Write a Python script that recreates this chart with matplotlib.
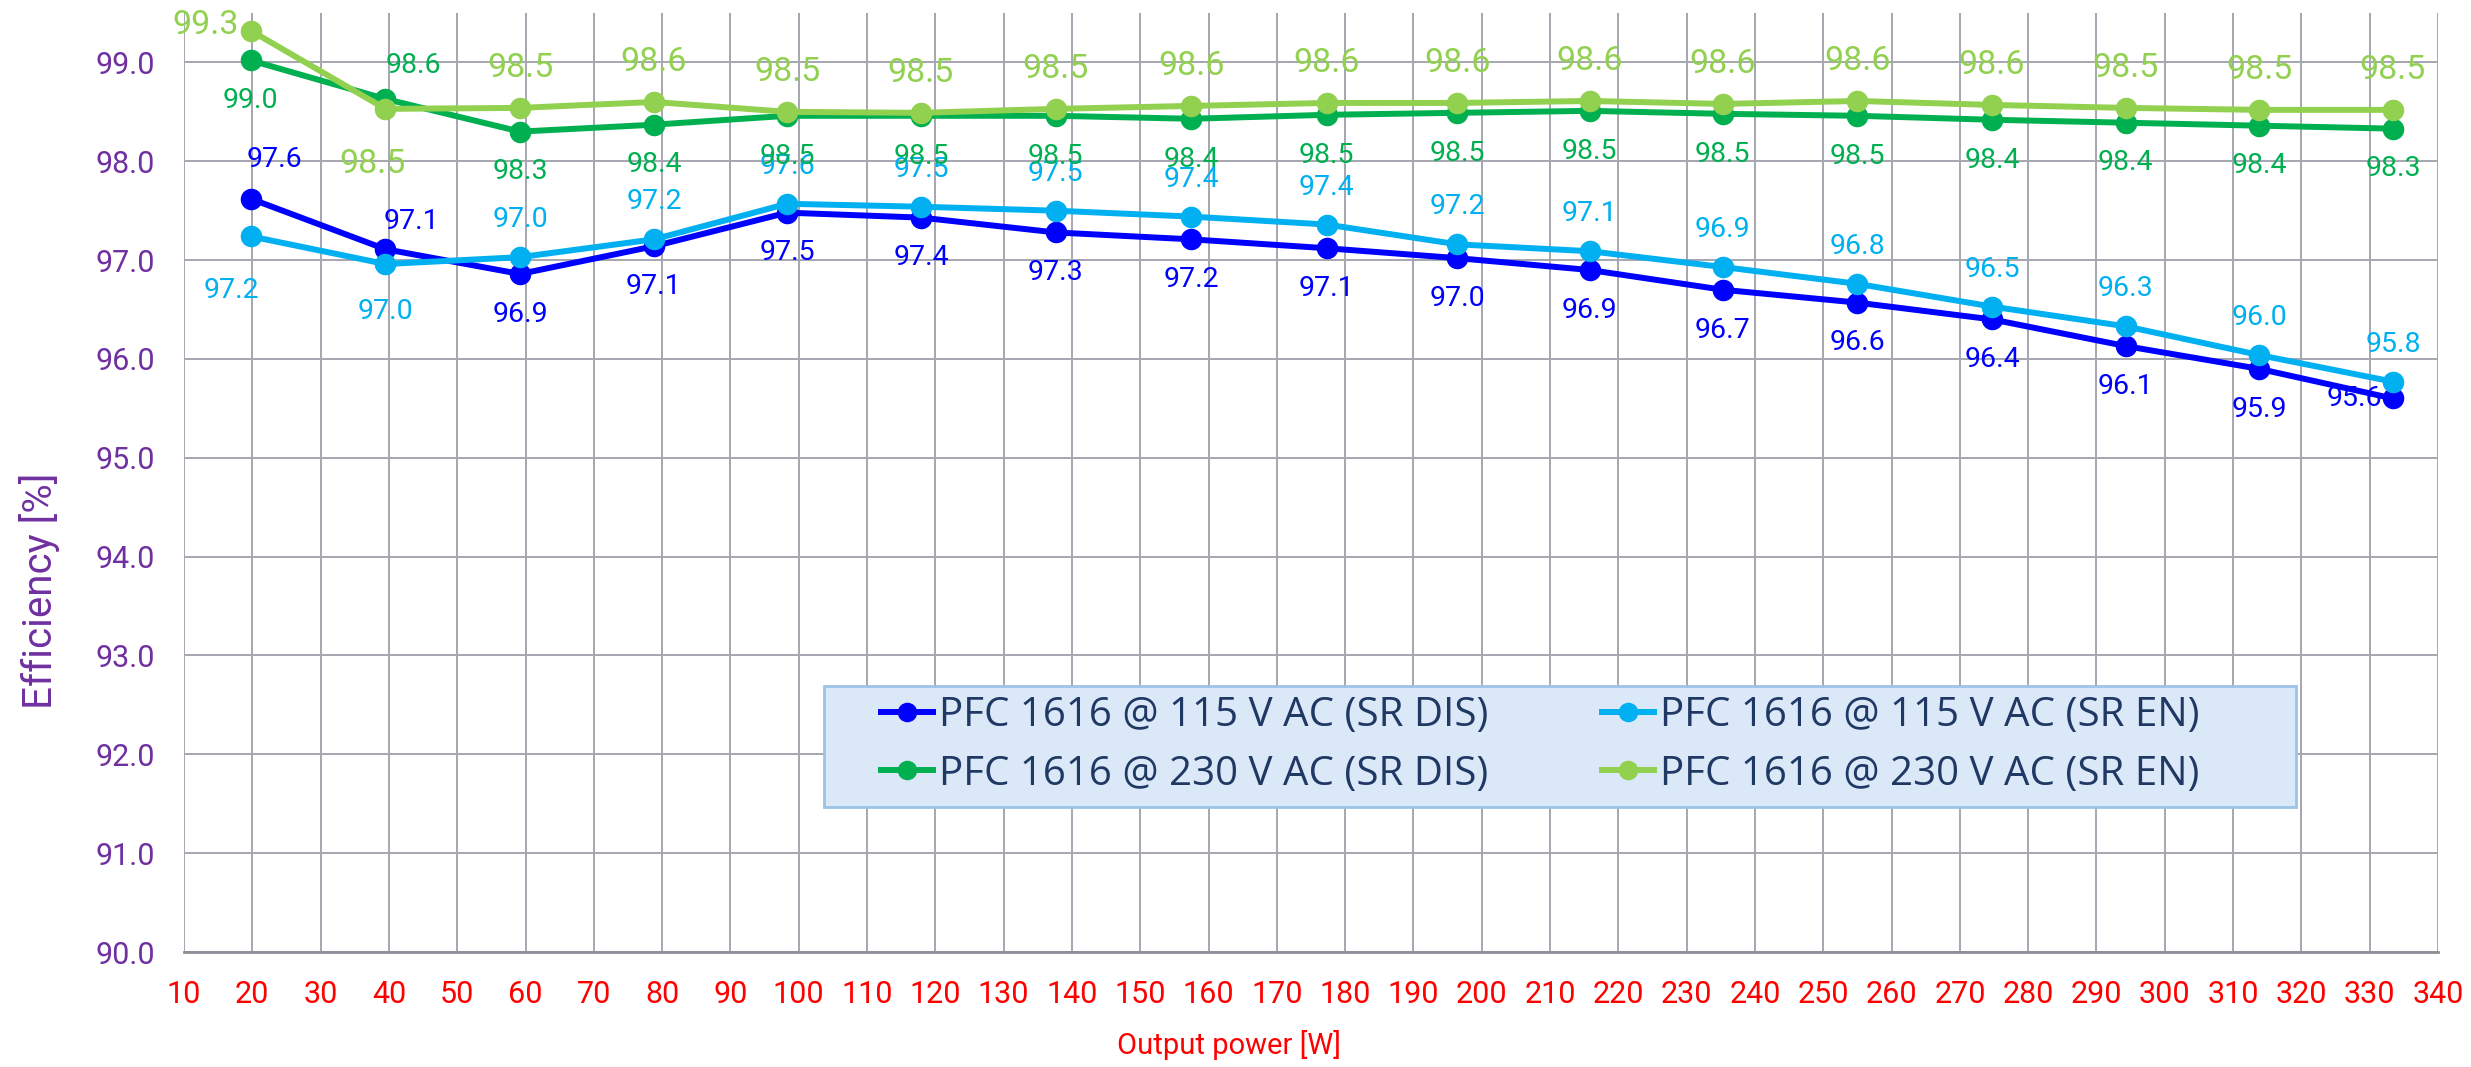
import matplotlib
matplotlib.use('Agg')
import matplotlib.pyplot as plt
from matplotlib.patches import Rectangle

plt.rcParams['font.family'] = ['Roboto', 'DejaVu Sans']

# Output power points [W]
power = [19.8, 39.5, 59.2, 78.8, 98.3, 117.9, 137.6, 157.5, 177.3, 196.4, 215.8, 235.3, 255.0, 274.7, 294.3, 313.8, 333.4]

# Efficiency [%]
eff_115_dis = [97.62, 97.11, 96.86, 97.14, 97.48, 97.43, 97.28, 97.21, 97.12, 97.02, 96.90, 96.70, 96.57, 96.40, 96.13, 95.90, 95.60]
eff_115_en = [97.24, 96.96, 97.03, 97.21, 97.57, 97.54, 97.50, 97.44, 97.36, 97.16, 97.09, 96.93, 96.76, 96.53, 96.33, 96.04, 95.77]
eff_230_dis = [99.02, 98.63, 98.30, 98.37, 98.46, 98.46, 98.46, 98.43, 98.47, 98.49, 98.51, 98.48, 98.46, 98.42, 98.39, 98.36, 98.33]
eff_230_en = [99.32, 98.53, 98.54, 98.60, 98.50, 98.49, 98.53, 98.56, 98.59, 98.59, 98.61, 98.58, 98.61, 98.57, 98.54, 98.52, 98.52]

names = ['PFC 1616 @ 115 V AC (SR DIS)', 'PFC 1616 @ 115 V AC (SR EN)',
         'PFC 1616 @ 230 V AC (SR DIS)', 'PFC 1616 @ 230 V AC (SR EN)']
colors = ['#0000FF', '#00B0F0', '#00B050', '#92D050']
series = [eff_115_dis, eff_115_en, eff_230_dis, eff_230_en]
label_size = [20.5, 20.5, 20.5, 24.5]

# label offsets in points: default per series, plus a few overrides
default_off = [(0, -29), (0, 27), (0, -29), (0, 29)]
special_off = {
    0: {0: (17, 28), 1: (19, 20), 16: (-28, 0)},
    1: {0: (-14, -39), 1: (0, -34)},
    2: {1: (20, 24)},
    3: {0: (-33, 4), 1: (-9, -40)},
}

W, H = 2471, 1067
L, R, T, B = 184, 2438, 13, 952
fig = plt.figure(figsize=(W / 100, H / 100), dpi=100)
ax = fig.add_axes([L / W, 1 - B / H, (R - L) / W, (B - T) / H])

def ax_x(px):
    return (px - L) / (R - L)

def ax_y(py):
    return (B - py) / (B - T)

lines = []
for i in range(4):
    ln, = ax.plot(power, series[i], color=colors[i], lw=4.3, marker='o', ms=14.5,
                  label=names[i], zorder=3 + i * 0.1)
    lines.append(ln)
    for j, (x, y) in enumerate(zip(power, series[i])):
        off = special_off[i].get(j, default_off[i])
        ax.annotate(f'{y:.1f}', (x, y), xytext=off, textcoords='offset points',
                    ha='center', va='center', fontsize=label_size[i], color=colors[i], zorder=6)

ax.set_xlim(10, 340)
ax.set_ylim(90, 99.5)
ax.set_xticks(range(10, 341, 10))
ax.set_yticks([90 + k for k in range(10)])
ax.set_yticklabels([f'{90 + k:.1f}' for k in range(10)])
ax.grid(True, color='#A6A6B0', lw=1.4)
ax.set_axisbelow(True)
for s in ['top', 'right', 'left']:
    ax.spines[s].set_visible(False)
ax.spines['bottom'].set_color('#8E8E98')
ax.spines['bottom'].set_linewidth(2)
ax.tick_params(axis='both', length=0)
ax.tick_params(axis='x', colors='#FF0000', labelsize=22, pad=20)
ax.tick_params(axis='y', colors='#7030A0', labelsize=22, pad=21)

ax.set_xlabel('Output power [W]', color='#FF0000', fontsize=21)
ax.xaxis.set_label_coords(0.4636, -0.099)
ax.xaxis.label.set_verticalalignment('center')
ax.set_ylabel('Efficiency [%]', color='#7030A0', fontsize=29)
ax.yaxis.set_label_coords(-0.064, 0.385)
ax.yaxis.label.set_verticalalignment('center')

# legend box
ax.add_patch(Rectangle((ax_x(824), ax_y(807)), ax_x(2296) - ax_x(824), ax_y(686) - ax_y(807),
                       transform=ax.transAxes, facecolor='#DAE8F7', edgecolor='#9DC3E6',
                       lw=2, zorder=4.8))

order = [0, 2, 1, 3]
leg = ax.legend([lines[k] for k in order], [names[k] for k in order], ncol=2,
                loc='center left', bbox_to_anchor=(ax_x(881), ax_y(745)),
                borderaxespad=0, borderpad=0, prop={'family': ['Open Sans', 'DejaVu Sans'], 'size': 29},
                frameon=False, handlelength=1.3, markerscale=0.9,
                handletextpad=0.15, columnspacing=2.8, labelspacing=0.45)
leg.set_zorder(5)
for t in leg.get_texts():
    t.set_color('#1F3864')

fig.savefig('out.png', dpi=100)
